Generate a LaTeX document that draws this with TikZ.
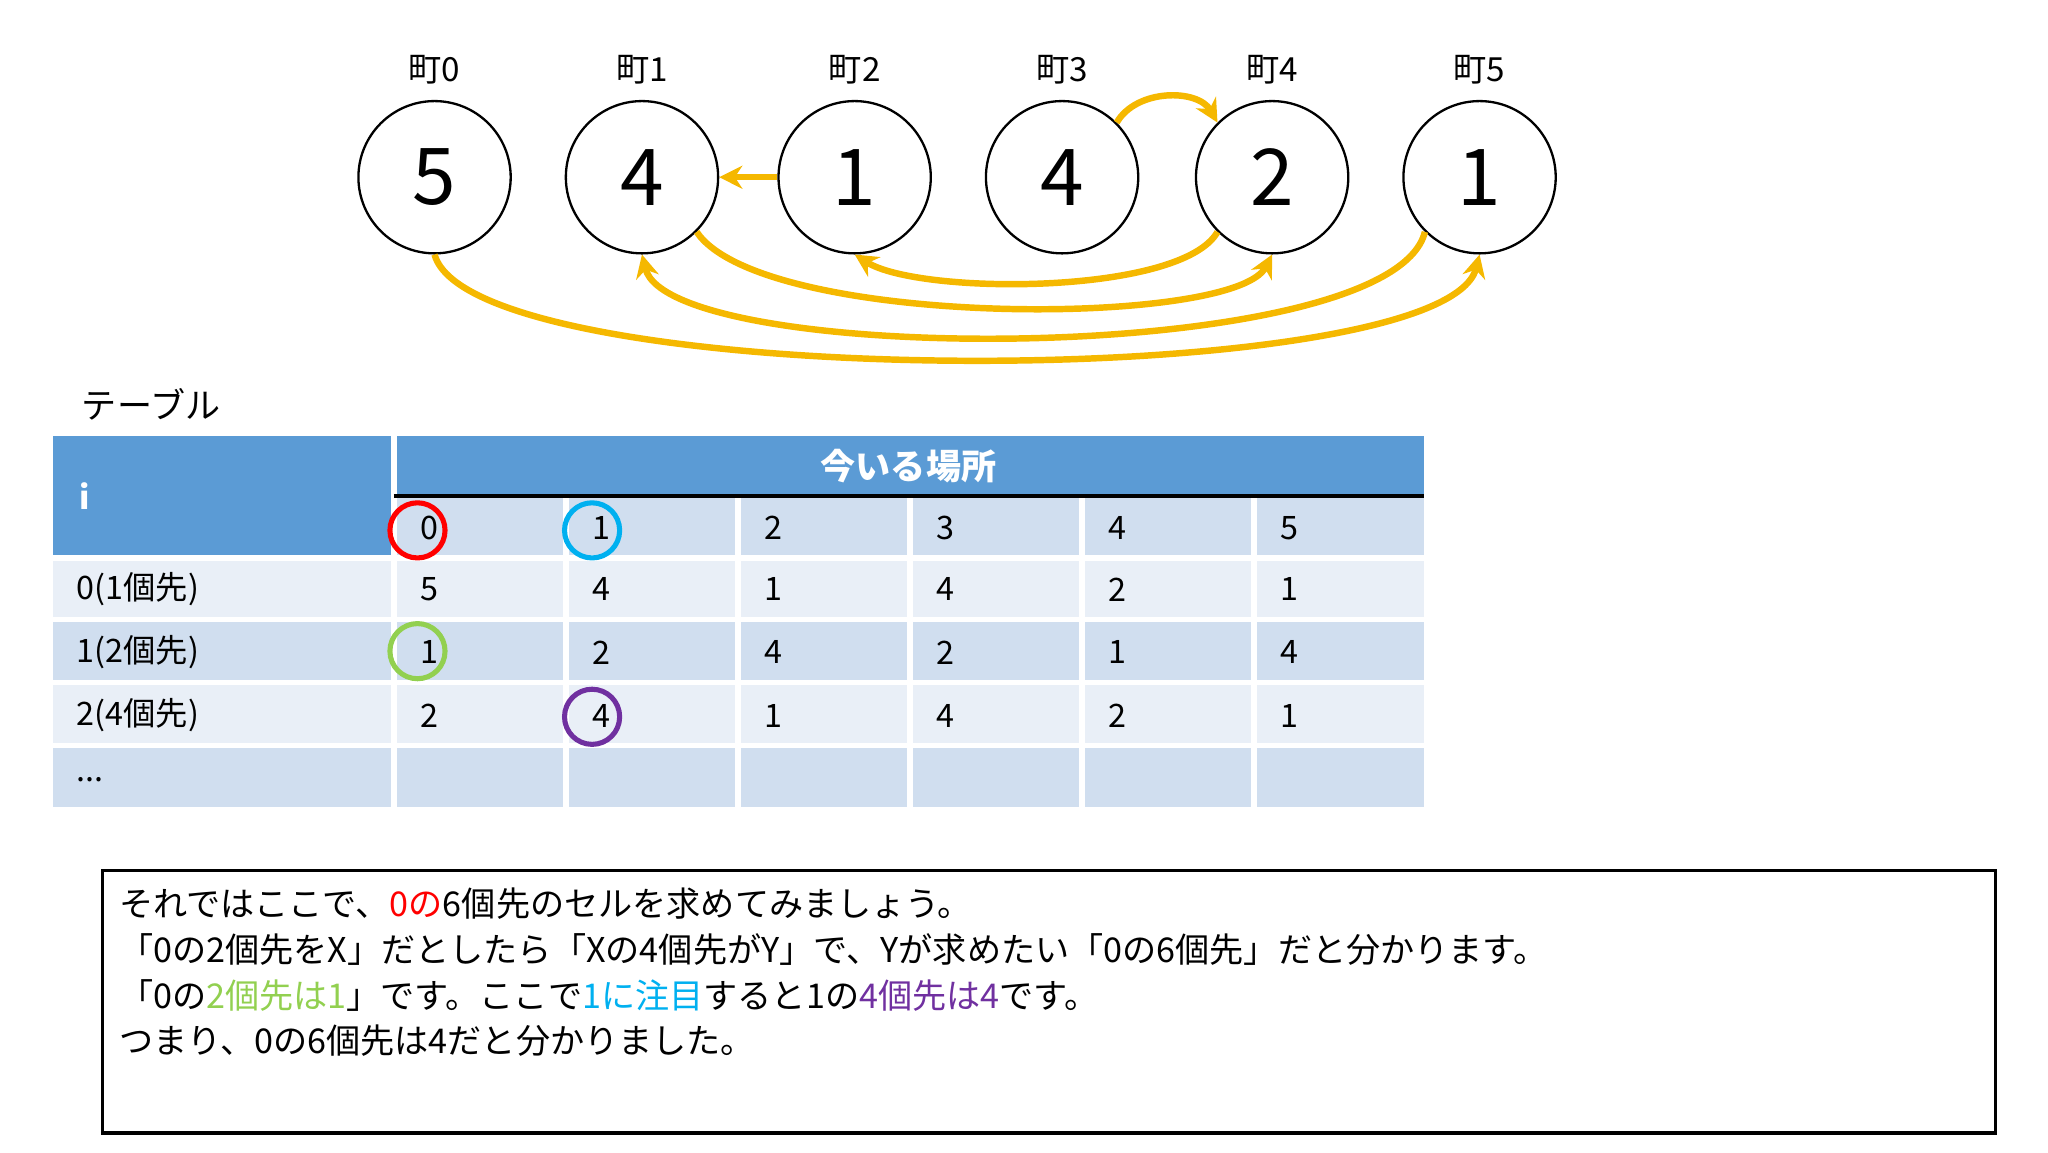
\documentclass[tikz,border=0pt]{standalone}
\usepackage{fontspec}
\setmainfont{Noto Sans CJK JP}
\usetikzlibrary{arrows.meta}
\definecolor{orng}{HTML}{F5B800}
\definecolor{hdr}{HTML}{5B9BD5}
\definecolor{dk}{HTML}{D0DEEF}
\definecolor{lt}{HTML}{E9EFF7}
\definecolor{grn}{HTML}{92D050}
\definecolor{cyn}{HTML}{00B0F0}
\definecolor{prp}{HTML}{7030A0}
\tikzset{town/.style={circle,draw,line width=0.5pt,minimum size=1.16cm,inner sep=0pt,font=\fontsize{17}{17}\selectfont},
 lab/.style={font=\fontsize{7.2}{8}\selectfont},
 arr/.style={orng,line width=1.4pt,-{Stealth[length=5pt,width=5pt]}},
 cell/.style={font=\fontsize{7}{8}\selectfont,anchor=west},
 ring/.style={circle,draw,line width=1.1pt,minimum size=0.42cm,inner sep=0pt}}
\newcommand{\PP}[2]{({#1/100},{(877.5-#2)/100})}
\begin{document}
\begin{tikzpicture}
\useasboundingbox (0,0) rectangle (15.6,8.775);
% towns
\foreach \i/\x/\v in {0/331/5,1/489/4,2/651/1,3/809/4,4/969/2,5/1127/1}{
 \node[town] (t\i) at \PP{\x}{135} {\v};
 \node[lab] (l\i) at \PP{\x}{53} {町\i};
}
\draw[arr] (t2.west) -- (t1.east);
\draw[arr] (t3.north east) to[out=60,in=120] (t4.north west);
\draw[arr] (t4.south west) .. controls \PP{900}{225} and \PP{700}{225} .. (t2.south);
\draw[arr] (t1.south east) .. controls \PP{580}{250} and \PP{940}{250} .. (t4.south);
\draw[arr] (t5.south west) .. controls \PP{1060}{280} and \PP{510}{280} .. (t1.south);
\draw[arr] (t0.south) .. controls \PP{360}{300} and \PP{1100}{300} .. (t5.south);
% table
\node[lab,anchor=west] (tb) at \PP{50}{308} {\fontsize{7.6}{8}\selectfont テーブル};
\fill[hdr] \PP{40}{332} rectangle \PP{1085}{378};
\fill[hdr] \PP{40}{378} rectangle \PP{300}{425};
\fill[dk] \PP{300}{378} rectangle \PP{1085}{425};
\fill[lt] \PP{40}{425} rectangle \PP{1085}{472};
\fill[dk] \PP{40}{472} rectangle \PP{1085}{520};
\fill[lt] \PP{40}{520} rectangle \PP{1085}{568};
\fill[dk] \PP{40}{568} rectangle \PP{1085}{615};
\draw[white,line width=1.2pt] \PP{300}{332} -- \PP{300}{615};
\foreach \x in {431,562,693,824,955}{\draw[white,line width=1.2pt] \PP{\x}{378} -- \PP{\x}{615};}
\foreach \y in {425,472,520,568}{\draw[white,line width=1.2pt] \PP{40}{\y} -- \PP{1085}{\y};}
\draw[black,line width=0.8pt] \PP{300}{378} -- \PP{1085}{378};
\node[cell,white,font=\bfseries\fontsize{7}{8}\selectfont] (hi) at \PP{48}{378} {i};
\node[white,font=\bfseries\fontsize{7.6}{8}\selectfont] (hp) at \PP{692}{355} {今いる場所};
\foreach \r/\y/\a/\b/\c/\d/\e/\f in {0/402/0/1/2/3/4/5, 1/449/5/4/1/4/2/1, 2/497/1/2/4/2/1/4, 3/545/2/4/1/4/2/1}{
 \foreach \k/\x/\v in {0/308/\a,1/439/\b,2/570/\c,3/701/\d,4/832/\e,5/963/\f}{
  \node[cell] (c\r\k) at \PP{\x}{\y} {\v};
 }
}
\node[cell] (r0) at \PP{46}{449} {0(1個先)};
\node[cell] (r1) at \PP{46}{497} {1(2個先)};
\node[cell] (r2) at \PP{46}{545} {2(4個先)};
\node[cell] (r3) at \PP{46}{594} {...};
\node[ring,red] (o1) at \PP{318}{404} {};
\node[ring,cyn] (o2) at \PP{451}{404} {};
\node[ring,grn] (o3) at \PP{318}{496} {};
\node[ring,prp] (o4) at \PP{451}{546} {};
% text box
\draw[line width=0.7pt] \PP{78}{663} rectangle \PP{1520}{863};
\begin{scope}[every node/.style={anchor=west,inner sep=0pt,font=\fontsize{7.4}{9}\selectfont}]
\node (s1) at \PP{90}{688} {それではここで、\textcolor{red}{0の}6個先のセルを求めてみましょう。};
\node (s2) at \PP{90}{723} {「0の2個先をX」だとしたら「Xの4個先がY」で、Yが求めたい「0の6個先」だと分かります。};
\node (s3) at \PP{90}{758} {「0の\textcolor{grn}{2個先は1}」です。ここで\textcolor{cyn}{1に注目}すると1の\textcolor{prp}{4個先は4}です。};
\node (s4) at \PP{90}{793} {つまり、0の6個先は4だと分かりました。};
\end{scope}
\end{tikzpicture}
\end{document}
